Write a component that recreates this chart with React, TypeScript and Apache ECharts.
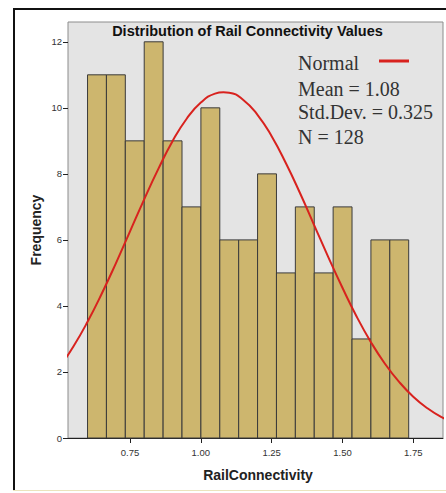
import React, { useEffect, useRef } from "react";
import * as echarts from "echarts";

// Histogram of RailConnectivity
const BIN_START = 0.6;
const BIN_WIDTH = 0.0667;
const COUNTS = [11, 11, 9, 12, 9, 7, 10, 6, 6, 8, 5, 7, 5, 7, 3, 6, 6];

// Fitted normal curve (Mean = 1.08, Std.Dev. = 0.325, N = 128)
const CURVE_X = [0.5, 0.55, 0.6, 0.65, 0.7, 0.75, 0.8, 0.85, 0.9, 0.95, 1.0, 1.05, 1.08, 1.1, 1.15, 1.2, 1.25, 1.3, 1.35, 1.4, 1.45, 1.5, 1.55, 1.6, 1.65, 1.7, 1.75, 1.8, 1.85, 1.9];
const CURVE_Y = [2.13, 2.77, 3.52, 4.37, 5.29, 6.26, 7.23, 8.15, 8.99, 9.67, 10.16, 10.43, 10.47, 10.46, 10.24, 9.79, 9.14, 8.33, 7.42, 6.45, 5.48, 4.55, 3.68, 2.91, 2.25, 1.7, 1.25, 0.9, 0.63, 0.43];

const X_TICKS = [0.75, 1.0, 1.25, 1.5, 1.75];
const Y_TICKS = [0, 2, 4, 6, 8, 10, 12];

const LEGEND_LINES = ["Normal", "Mean = 1.08", "Std.Dev. = 0.325", "N = 128"];

export default function App() {
  const ref = useRef<HTMLDivElement>(null);
  useEffect(() => {
    if (!ref.current) return;
    const chart = echarts.init(ref.current, null, { renderer: "svg" });
    const bars = COUNTS.map((c, i) => [BIN_START + i * BIN_WIDTH, BIN_START + (i + 1) * BIN_WIDTH, c]);
    const curve = CURVE_X.map((x, i) => [x, CURVE_Y[i]]);
    const legendYs = [63, 89, 112, 137];
    chart.setOption({
      animation: false,
      backgroundColor: "#ffffff",
      grid: {
        left: 68,
        top: 22,
        right: 3,
        bottom: 55,
        show: true,
        backgroundColor: "#e4e4e4",
        borderColor: "#8c8c8c",
        borderWidth: 1,
      },
      xAxis: {
        type: "value",
        min: 0.531,
        max: 1.855,
        axisLine: { show: true, lineStyle: { color: "#222", width: 1 } },
        axisTick: { show: true, length: 5, customValues: X_TICKS, lineStyle: { color: "#222" } },
        axisLabel: {
          customValues: X_TICKS,
          formatter: (v: number) => v.toFixed(2),
          color: "#333",
          fontSize: 9.5,
          fontFamily: "Liberation Sans, Arial, sans-serif",
          margin: 9,
        },
        splitLine: { show: false },
      },
      yAxis: {
        type: "value",
        min: 0,
        max: 12.6,
        axisLine: { show: false },
        axisTick: { show: true, length: 5, customValues: Y_TICKS, lineStyle: { color: "#222" } },
        axisLabel: {
          customValues: Y_TICKS,
          color: "#333",
          fontSize: 9.5,
          fontFamily: "Liberation Sans, Arial, sans-serif",
          margin: 6,
        },
        splitLine: { show: false },
      },
      series: [
        {
          type: "custom",
          data: bars,
          encode: { x: [0, 1], y: 2 },
          z: 2,
          renderItem: (params: any, api: any) => {
            const x0 = api.value(0);
            const x1 = api.value(1);
            const c = api.value(2);
            const p0 = api.coord([x0, c]);
            const p1 = api.coord([x1, 0]);
            return {
              type: "rect",
              shape: { x: p0[0], y: p0[1], width: p1[0] - p0[0], height: p1[1] - p0[1] },
              style: { fill: "#cdb66e", stroke: "#3a3a3a", lineWidth: 1 },
            };
          },
        },
        {
          type: "line",
          name: "Normal",
          data: curve,
          smooth: true,
          showSymbol: false,
          clip: true,
          z: 3,
          lineStyle: { color: "#d8221e", width: 2 },
        },
      ],
      graphic: [
        { type: "line", shape: { x1: 14, y1: 8, x2: 14, y2: 490 }, style: { stroke: "#111", lineWidth: 2 } },
        { type: "line", shape: { x1: 13, y1: 9, x2: 446, y2: 9 }, style: { stroke: "#111", lineWidth: 2 } },
        { type: "line", shape: { x1: 13, y1: 490.5, x2: 446, y2: 490.5 }, style: { stroke: "#ebe4bd", lineWidth: 1 } },
        {
          type: "text",
          x: 247.5,
          y: 31,
          style: {
            text: "Distribution of Rail Connectivity Values",
            fill: "#111",
            font: "bold 14.5px 'Liberation Sans', Arial, sans-serif",
            align: "center",
            verticalAlign: "middle",
          },
        },
        ...LEGEND_LINES.map((t, i) => ({
          type: "text",
          x: 298,
          y: legendYs[i],
          style: {
            text: t,
            fill: "#333",
            font: "20px 'Liberation Serif', 'Times New Roman', serif",
            align: "left",
            verticalAlign: "middle",
          },
        })),
        { type: "line", shape: { x1: 379, y1: 61, x2: 409, y2: 61 }, style: { stroke: "#d8221e", lineWidth: 3 } },
        {
          type: "text",
          x: 36,
          y: 230,
          rotation: Math.PI / 2,
          style: {
            text: "Frequency",
            fill: "#222",
            font: "bold 14px 'Liberation Sans', Arial, sans-serif",
            align: "center",
            verticalAlign: "middle",
          },
        },
        {
          type: "text",
          x: 258,
          y: 475,
          style: {
            text: "RailConnectivity",
            fill: "#222",
            font: "bold 14px 'Liberation Sans', Arial, sans-serif",
            align: "center",
            verticalAlign: "middle",
          },
        },
      ],
    });
    return () => chart.dispose();
  }, []);
  return <div ref={ref} style={{ position: "absolute", left: 0, top: 0, width: 446, height: 493 }} />;
}
